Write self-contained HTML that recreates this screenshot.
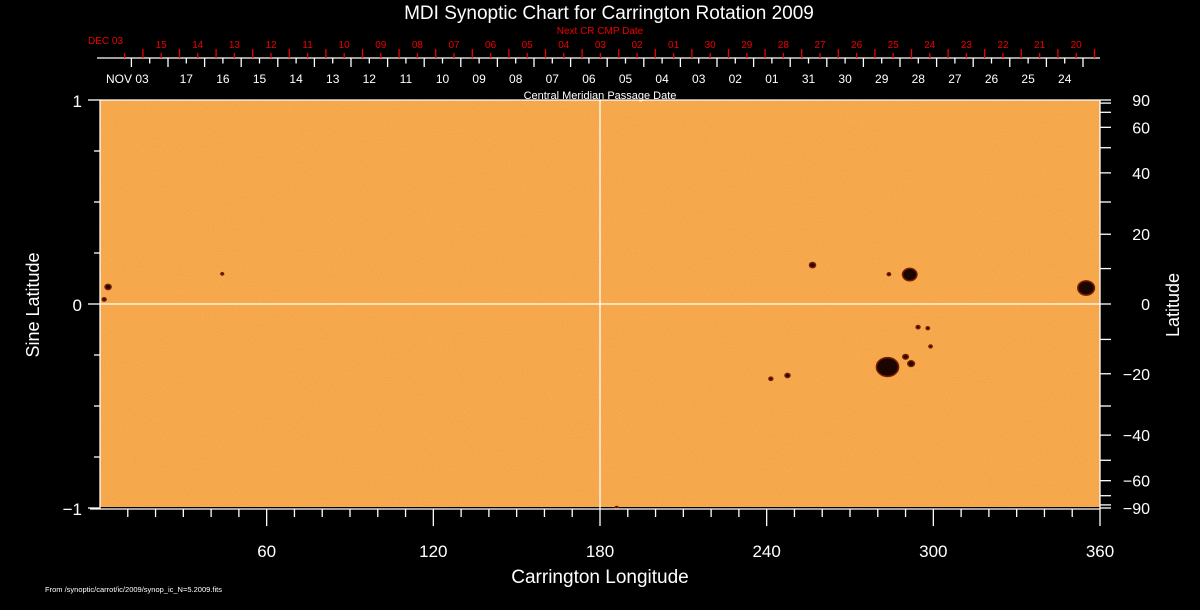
<!DOCTYPE html>
<html><head><meta charset="utf-8">
<style>
html,body{margin:0;padding:0;background:#000;}
svg{display:block;font-family:"Liberation Sans",sans-serif;}
</style></head>
<body>
<svg id="chart" width="1200" height="610" viewBox="0 0 1200 610" xmlns="http://www.w3.org/2000/svg">
<defs>
<filter id="noise" x="0" y="0" width="100%" height="100%">
<feTurbulence type="fractalNoise" baseFrequency="0.9" numOctaves="1" seed="3" result="t"/>
<feColorMatrix type="matrix" values="0 0 0 0 1  0 0 0 0 0.8  0 0 0 0 0.6  0 0 0 0.5 -0.1" in="t" result="n"/>
<feComposite in="n" in2="SourceGraphic" operator="in"/>
</filter>
</defs>
<rect x="0" y="0" width="1200" height="610" fill="#000"/>
<text x="609" y="19" fill="#fff" font-size="19" text-anchor="middle">MDI Synoptic Chart for Carrington Rotation 2009</text>
<text x="600" y="34" fill="#e00" font-size="10" text-anchor="middle">Next CR CMP Date</text>
<g id="plot">
<rect x="100" y="100" width="1000" height="407" fill="#f5a240"/>
<rect x="100" y="100" width="1000" height="407" fill="#f5a240" filter="url(#noise)" opacity="0.6"/>
<g id="spots"></g>
</g>
<g id="axes" stroke="#fff" stroke-width="1.3" fill="none"></g>
<g id="labels" fill="#fff"></g>
<text x="600" y="99" fill="#fff" font-size="11" text-anchor="middle">Central Meridian Passage Date</text>
<text x="600" y="583" fill="#fff" font-size="19" text-anchor="middle">Carrington Longitude</text>
<text x="0" y="0" fill="#fff" font-size="18" text-anchor="middle" transform="translate(39,305) rotate(-90)">Sine Latitude</text>
<text x="0" y="0" fill="#fff" font-size="18" text-anchor="middle" transform="translate(1179,305) rotate(-90)">Latitude</text>
<text x="45" y="592" fill="#fff" font-size="7.5">From /synoptic/carrot/ic/2009/synop_ic_N=5.2009.fits</text>
</svg>
<script>
// ---- data ----
const lonTicks = [60,120,180,240,300,360];
const sineTicks = [1,0,-1];
const latLabels = [90,60,40,20,0,-20,-40,-60,-90];
const cmpLabels = ["17","16","15","14","13","12","11","10","09","08","07","06","05","04","03","02","01","31","30","29","28","27","26","25","24"];
const nextLabels = ["15","14","13","12","11","10","09","08","07","06","05","04","03","02","01","30","29","28","27","26","25","24","23","22","21","20"];
// sunspots: longitude (deg), latitude (deg), size (deg)
const spotLon = [2.9, 1.5, 44, 256.5, 291.5, 284, 355, 283.5, 290, 292, 294.5, 298, 247.5, 241.5, 299, 186];
const spotLat = [4.8, 1.3, 8.5, 11, 8.3, 8.4, 4.5, -18, -15, -17, -6.5, -6.8, -20.5, -21.5, -12, -88];
const spotSize = [1.1, 0.7, 0.5, 1.1, 2.6, 0.6, 3.0, 4.0, 1.0, 1.2, 0.7, 0.6, 0.9, 0.7, 0.6, 0.6];

// ---- scales ----
const X0=100, X1=1100, YC=304, YS=204;
const xLon = l => X0 + l*(X1-X0)/360;
const ySin = s => YC - s*YS;
const yLat = d => ySin(Math.sin(d*Math.PI/180));
const NS="http://www.w3.org/2000/svg";
function mk(tag, attrs, parent){const e=document.createElementNS(NS,tag);for(const k in attrs)e.setAttribute(k,attrs[k]);parent.appendChild(e);return e;}
const axes=document.getElementById('axes'), labels=document.getElementById('labels'), spots=document.getElementById('spots');

spotLon.forEach((l,i)=>{
  const r = spotSize[i]*(X1-X0)/360;
  const c = mk('ellipse',{cx:xLon(l),cy:yLat(spotLat[i]),rx:r,ry:r*0.85,fill:'#1a0500',stroke:'#7a1e00','stroke-width':1.5},spots);
  
  
});

let e;
e=mk('line',{x1:X0,y1:100,x2:X1,y2:100},axes);  
e=mk('line',{x1:X0,y1:100,x2:X0,y2:509},axes);  
e=mk('line',{x1:X1,y1:100,x2:X1,y2:509},axes);  
e=mk('line',{x1:90,y1:509,x2:X1,y2:509},axes);  
e=mk('line',{x1:X0,y1:ySin(0),x2:X1,y2:ySin(0)},axes);  
e=mk('line',{x1:xLon(180),y1:100,x2:xLon(180),y2:509},axes);  

for(let l=10;l<=360;l+=10){
  const maj = l%60===0;
  e=mk('line',{x1:xLon(l),y1:509,x2:xLon(l),y2:maj?526:517},axes);
   
}
lonTicks.forEach(l=>{
  e=mk('text',{x:xLon(l),y:557,'font-size':17,'text-anchor':'middle'},labels); e.textContent=l;
   
});
for(let s=-1;s<=1.001;s+=0.25){
  const maj = Math.abs(s-Math.round(s))<1e-6;
  e=mk('line',{x1:X0,y1:ySin(s),x2:maj?88:94,y2:ySin(s)},axes);
   
}
sineTicks.forEach(s=>{
  e=mk('text',{x:82,y:ySin(s)+7,'font-size':17,'text-anchor':'end'},labels); e.textContent=s<0?'\u2212'+Math.abs(s):s;
   
});
for(let d=-90;d<=90;d+=10){
  e=mk('line',{x1:X1,y1:yLat(d),x2:1111,y2:yLat(d)},axes);
   
}
latLabels.forEach(d=>{
  e=mk('text',{x:1150,y:yLat(d)+6,'font-size':16,'text-anchor':'end'},labels); e.textContent=d<0?'\u2212'+Math.abs(d):d;
   
});

const DAY=36.6, W0=131.4, R0=142.9, AY=58;
e=mk('line',{x1:97,y1:AY,x2:X1,y2:AY},axes);  
for(let k=0;k<=26;k++){
  const xl=W0+k*DAY;
  if(xl<X1){e=mk('line',{x1:xl,y1:AY,x2:xl,y2:67},axes);  }
  const xs=xl+DAY/2;
  if(xs<X1){e=mk('line',{x1:xs,y1:AY,x2:xs,y2:63.5},axes);  }
  const rl=R0+k*DAY;
  if(rl<X1){e=mk('line',{x1:rl,y1:AY,x2:rl,y2:49,stroke:'#e00'},axes);  }
  const rs=rl-DAY/2;
  if(rs<X1&&rs>97){e=mk('line',{x1:rs,y1:AY,x2:rs,y2:53,stroke:'#e00'},axes);  }
}
cmpLabels.forEach((t,i)=>{
  e=mk('text',{x:W0+DAY*1.5+i*DAY,y:83,'font-size':12,'text-anchor':'middle'},labels); e.textContent=t;
   
});
e=mk('text',{x:106,y:83,'font-size':12},labels); e.textContent='NOV 03';
 
nextLabels.forEach((t,i)=>{
  e=mk('text',{x:R0+DAY/2+i*DAY,y:48,'font-size':10,'text-anchor':'middle',fill:'#e00'},labels); e.textContent=t;
   
});
e=mk('text',{x:88,y:44,'font-size':10,fill:'#e00'},labels); e.textContent='DEC 03';
 
</script>
</body></html>
